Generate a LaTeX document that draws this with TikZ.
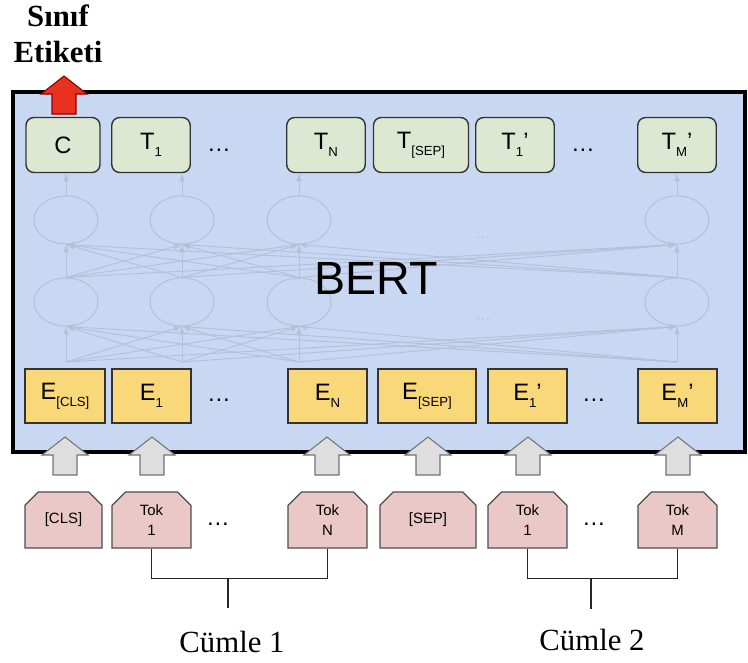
\documentclass[tikz,border=0pt]{standalone}
\usepackage{fontspec}
\setmainfont{Liberation Sans}
\newfontfamily\timesfont{Liberation Serif}
\usepackage{tikz}
\usetikzlibrary{arrows,shapes.geometric,shapes.misc}
\definecolor{bertblue}{HTML}{C9D8F2}
\definecolor{outgreen}{HTML}{DCE8D2}
\definecolor{embyellow}{HTML}{F8D879}
\definecolor{tokpink}{HTML}{EAC8C8}
\definecolor{netgray}{HTML}{B4C0D8}
\definecolor{clsred}{HTML}{E8321F}
% small lowered index for the box labels
\newcommand{\idx}[1]{\raisebox{-4.2pt}{\fontsize{7.5}{9}\selectfont #1}}

\tikzset{
  outbox/.style={draw=black!80, fill=outgreen, rounded corners=4.5pt, line width=0.8pt,
    minimum width=1.57cm, minimum height=1.1cm, inner sep=0pt, font=\fontsize{13.5}{16}\selectfont},
  embbox/.style={draw=black!80, fill=embyellow, line width=0.8pt,
    minimum width=1.58cm, minimum height=1.08cm, inner sep=0pt, font=\fontsize{13.5}{16}\selectfont},
  tokbox/.style={chamfered rectangle, chamfered rectangle corners={north west,north east},
    chamfered rectangle xsep=4.2pt, draw=black!70, fill=tokpink, line width=0.7pt,
    minimum width=1.58cm, minimum height=1.12cm, inner sep=0pt, align=center,
    font=\fontsize{8.5}{11}\selectfont},
  gap/.style={font=\fontsize{13.5}{16}\selectfont},
  layer/.style={ellipse, draw=netgray, line width=0.6pt, minimum width=1.28cm, minimum height=0.96cm, inner sep=0pt},
  wire/.style={draw=netgray, line width=0.55pt, -latex},
  fatarrow/.pic={\path[pic actions] (-12,0) -- (-12,-20) -- (-23,-20) -- (0,-38) -- (23,-20) -- (12,-20) -- (12,0) -- cycle;}
}

\begin{document}
\begin{tikzpicture}[x=0.02cm,y=-0.02cm]
\useasboundingbox (0,0) rectangle (748,663);

% class label on top
\node[font=\timesfont\bfseries\fontsize{17.5}{20.5}\selectfont, align=center] (label) at (58,34) {Sınıf\\Etiketi};

% BERT frame
\node[draw=black, line width=2.2pt, fill=bertblue, minimum width=14.64cm, minimum height=7.2cm] (bert) at (379,272) {};
\pic[fill=clsred, draw=red!55!black, line width=0.6pt] at (64,114) {fatarrow};

% faded transformer layers
\foreach \i/\x in {1/66,2/182,3/299,4/677}{
  \node[layer] (up\i) at (\x,220) {};
  \node[layer] (lo\i) at (\x,302) {};
  \coordinate (in\i) at (\x,362);
}
\foreach \i in {1,...,4}{
  \foreach \j in {1,...,4}{
    \draw[wire] (in\i) -- (lo\j.south);
    \draw[wire] (lo\i.north) -- (up\j.south);
  }
}
\node[text=netgray, font=\small] (dotsup) at (483,238) {\dots};
\node[text=netgray, font=\small] (dotslo) at (483,320) {\dots};
\node[font=\fontsize{26.5}{30}\selectfont] (name) at (376,278) {BERT};

% output row
\node[outbox, minimum width=1.48cm] (c) at (63,145) {C};
\node[outbox] (t1) at (151,145) {T\idx{1}};
\node[gap] (tdots1) at (219,150) {\dots};
\node[outbox] (tn) at (326,145) {T\idx{N}};
\node[outbox, minimum width=1.9cm] (tsep) at (421,145) {T\idx{[SEP]}};
\node[outbox] (t1b) at (515,145) {T\idx{1}’};
\node[gap] (tdots2) at (583,150) {\dots};
\node[outbox] (tm) at (677,145) {T\idx{M}’};

\draw[wire] (up1.north) -- (up1.north |- c.south);
\draw[wire] (up2.north) -- (up2.north |- t1.south);
\draw[wire] (up3.north) -- (up3.north |- tn.south);
\draw[wire] (up4.north) -- (up4.north |- tm.south);

% embedding row
\node[embbox, minimum width=1.6cm] (ecls) at (65,396) {E\idx{[CLS]}};
\node[embbox] (e1) at (151.5,396) {E\idx{1}};
\node[gap] (edots1) at (219,400) {\dots};
\node[embbox] (en) at (327.5,396) {E\idx{N}};
\node[embbox, minimum width=1.96cm] (esep) at (427,396) {E\idx{[SEP]}};
\node[embbox] (e1b) at (527.5,396) {E\idx{1}’};
\node[gap] (edots2) at (594,400) {\dots};
\node[embbox] (em) at (677.5,396) {E\idx{M}’};

% input arrows
\foreach \x in {65,152,327,428,528,678}
  \pic[fill=black!13, draw=black!55, line width=0.6pt] at (\x,475) {fatarrow};

% input tokens
\node[tokbox, minimum width=1.54cm] (cls) at (63.5,520) {[CLS]};
\node[tokbox] (tok1) at (151.5,520) {Tok\\1};
\node[gap] (kdots1) at (218,524) {\dots};
\node[tokbox] (tokn) at (327.5,520) {Tok\\N};
\node[tokbox, minimum width=1.92cm] (sep) at (428,520) {[SEP]};
\node[tokbox] (tok1b) at (527.5,520) {Tok\\1};
\node[gap] (kdots2) at (594,524) {\dots};
\node[tokbox] (tokm) at (677.5,520) {Tok\\M};

% sentence brackets
\coordinate (j1) at (228,578);
\coordinate (j2) at (591,578);
\draw[black!85, line width=0.7pt] (tok1.south) -- ++(0,30) -| (tokn.south);
\draw[black!85, line width=0.7pt] (tok1b.south) -- ++(0,30) -| (tokm.south);
\draw[black!85, line width=0.7pt] (j1) -- ++(0,30);
\draw[black!85, line width=0.7pt] (j2) -- ++(0,31);
\node[font=\timesfont\fontsize{17.5}{20}\selectfont, anchor=base] (sent1) at (232,652) {Cümle 1};
\node[font=\timesfont\fontsize{17.5}{20}\selectfont, anchor=base] (sent2) at (592,650) {Cümle 2};
\end{tikzpicture}
\end{document}
